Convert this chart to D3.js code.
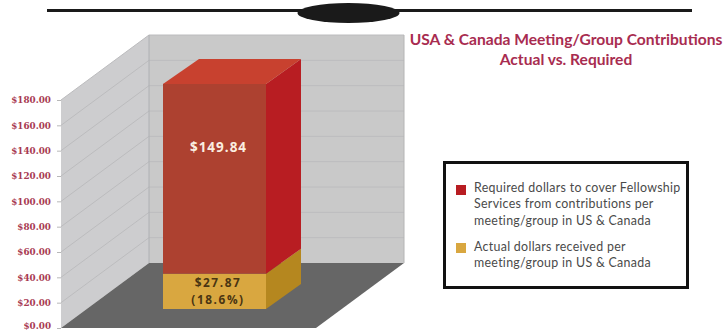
<!DOCTYPE html>
<html>
<head>
<meta charset="utf-8">
<script src="https://cdnjs.cloudflare.com/ajax/libs/d3/7.8.5/d3.min.js"></script>
<style>
  html, body { margin: 0; padding: 0; background: #fff; }
  svg { display: block; }
</style>
</head>
<body>
<svg id="chart" width="726" height="330"></svg>
<script>
// Stacked values, bottom to top
const seriesNames = ["Actual dollars received", "Required dollars"];
const seriesValues = [27.87, 149.84];
const valueLabels = [["$27.87", "(18.6%)"], ["$149.84"]];
const tickValues = [0, 20, 40, 60, 80, 100, 120, 140, 160, 180];
const titleLines = ["USA & Canada Meeting/Group Contributions", "Actual vs. Required"];
const legendEntries = [
  ["Required dollars to cover Fellowship", "Services from contributions per", "meeting/group in US & Canada"],
  ["Actual dollars received per", "meeting/group in US & Canada"]
];

const svg = d3.select("#chart");

// Oblique projection: value moves up, depth moves up and to the right
const y = d3.scaleLinear().domain([0, 180]).range([328, 100]);
const x = d3.scaleLinear().domain([0, 1]).range([61, 316]);
const depthX = d3.scaleLinear().domain([0, 1]).range([0, 88]);
const depthY = d3.scaleLinear().domain([0, 1]).range([0, -65]);
const pt = (u, v, d) => [x(u) + depthX(d), y(v) + depthY(d)];
const poly = pts => d3.line()(pts) + "Z";

const red = { front: "#ad4130", side: "#b81d22", top: "#c8412f" };
const gold = { front: "#d9a740", side: "#b5871f" };

// Header rule and oval
svg.append("rect").attr("x", 47).attr("y", 9).attr("width", 645).attr("height", 3).attr("fill", "#1a1a1a");
svg.append("ellipse").attr("cx", 348.5).attr("cy", 13).attr("rx", 51).attr("ry", 10).attr("fill", "#1a1a1a");

// Walls and floor
svg.append("path").attr("d", poly([pt(0, 0, 0), pt(0, 180, 0), pt(0, 180, 1), pt(0, 0, 1)])).attr("fill", "#cdcdcf");
svg.append("path").attr("d", poly([pt(0, 0, 1), pt(0, 180, 1), pt(1, 180, 1), pt(1, 0, 1)])).attr("fill", "#c9c9c9");
svg.append("path").attr("d", poly([pt(0, 0, 0), pt(0, 0, 1), pt(1, 0, 1), pt(1, 0, 0)])).attr("fill", "#666666");

// Gridlines along both walls
const grid = svg.append("g").attr("fill", "none").attr("stroke", "#bcbcbe").attr("stroke-width", 1);
tickValues.filter(t => t > 0).forEach(t => {
  grid.append("path").attr("d", d3.line()([pt(0, t, 0), pt(0, t, 1), pt(1, t, 1)]));
});
svg.append("path").attr("d", d3.line()([pt(0, 0, 1), pt(0, 180, 1)])).attr("fill", "none").attr("stroke", "#aeb0b4");
svg.append("path").attr("d", d3.line()([pt(1, 0, 1), pt(1, 180, 1)])).attr("fill", "none").attr("stroke", "#b4b4b4");

// Value axis
const axis = svg.append("g").attr("transform", "translate(61,0)")
  .call(d3.axisLeft(y).tickValues(tickValues).tickSize(4).tickPadding(6)
    .tickFormat(d => "$" + d3.format(".2f")(d)));
axis.select(".domain").remove();
axis.selectAll("line").attr("stroke", "#b8b8b8");
axis.selectAll("text")
  .attr("font-family", "'DejaVu Serif', serif").attr("font-weight", "bold")
  .attr("font-size", 8.8).attr("fill", "#a83a52")
  .attr("dy", d => d === 0 ? "0.1em" : "0.32em");

// Stacked prism, raised off the front edge of the floor
const stacks = d3.stack().keys([0, 1]).value((row, k) => row[k])([seriesValues]);
const skins = [gold, red];
const barBaseLift = 15;
const yLift = v => v + barBaseLift;

const barG = svg.append("g");
stacks.forEach((s, i) => {
  const v0 = yLift(s[0][0]), v1 = yLift(s[0][1]);
  const skin = skins[i];
  barG.append("path").attr("fill", skin.side)
    .attr("d", poly([[266, y(v0)], [266, y(v1)], [301, y(v1) - 25], [301, y(v0) - 25]]));
  barG.append("rect").attr("x", 163).attr("width", 103)
    .attr("y", y(v1)).attr("height", y(v0) - y(v1)).attr("fill", skin.front);
  if (skin.top) {
    barG.append("path").attr("fill", skin.top)
      .attr("d", poly([[163, y(v1)], [199, y(v1) - 25], [301, y(v1) - 25], [266, y(v1)]]));
  }
});

// Segment labels
barG.append("text").text(valueLabels[1][0]).attr("x", 218.5).attr("y", 152)
  .attr("text-anchor", "middle").attr("font-family", "'Open Sans', sans-serif")
  .attr("font-weight", "bold").attr("font-size", 13.5).attr("letter-spacing", 1).attr("fill", "#fbeee0");
valueLabels[0].forEach((t, i) => {
  barG.append("text").text(t).attr("x", 218).attr("y", 287 + i * 16.5)
    .attr("text-anchor", "middle").attr("font-family", "'Open Sans', sans-serif")
    .attr("font-weight", "bold").attr("font-size", 11.8).attr("letter-spacing", 1.6).attr("fill", "#4a3512");
});

// Title
titleLines.forEach((t, i) => {
  svg.append("text").text(t).attr("x", 566).attr("y", 45 + i * 19.5)
    .attr("text-anchor", "middle").attr("font-family", "Lato, sans-serif")
    .attr("font-weight", "bold").attr("font-size", 15.6).attr("fill", "#a82c50");
});

// Legend
svg.append("rect").attr("x", 444.5).attr("y", 162.5).attr("width", 243).attr("height", 125)
  .attr("fill", "#fff").attr("stroke", "#111").attr("stroke-width", 3);
const swatches = [red.side, gold.front];
const swatchY = [185, 243];
const textY = [192, 208, 224.5, 251, 267];
let line = 0;
legendEntries.forEach((rows, i) => {
  svg.append("rect").attr("x", 456).attr("y", swatchY[i]).attr("width", 10).attr("height", 10).attr("fill", swatches[i]);
  rows.forEach(r => {
    svg.append("text").text(r).attr("x", 474).attr("y", textY[line++])
      .attr("font-family", "Lato, sans-serif").attr("font-size", 12.4)
      .attr("letter-spacing", 0.3).attr("fill", "#4a4a4a");
  });
});
</script>
</body>
</html>
